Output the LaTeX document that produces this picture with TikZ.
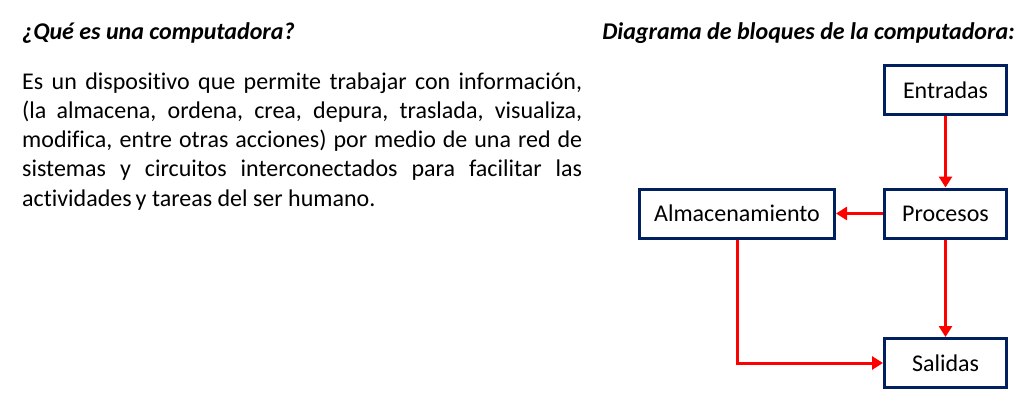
\documentclass[tikz,border=0pt]{standalone}
\usepackage{fontspec}
\setmainfont{Carlito}[Ligatures=CommonOff]
\usetikzlibrary{arrows.meta}
\definecolor{navy}{HTML}{002060}
\definecolor{arrred}{HTML}{FF0000}
\begin{document}
\begin{tikzpicture}[x=1pt,y=-1pt,
  box/.style={draw=navy, line width=3pt, minimum height=49pt, inner sep=0pt,
    font=\fontsize{24}{29}\selectfont},
  arr/.style={draw=arrred, line width=3pt, -{Triangle[length=11pt,width=13pt]}},
  head/.style={inner sep=0pt, font=\fontsize{24}{29}\selectfont\bfseries\itshape},
  txt/.style={inner sep=0pt, anchor=base west, font=\fontsize{24}{29}\selectfont}]
\useasboundingbox (0,0) rectangle (1032,415);
\node[head, anchor=base west] (t1) at (22,39) {¿Qué es una computadora?};
\node[head, anchor=base east] (t2) at (1015,39) {Diagrama de bloques de la computadora:};
\node[txt] (p1) at (22,89) {\makebox[560pt][s]{Es un dispositivo que permite trabajar con información,}};
\node[txt] (p2) at (22,118.3) {\makebox[560pt][s]{(la almacena, ordena, crea, depura, traslada, visualiza,}};
\node[txt] (p3) at (22,147.6) {\makebox[560pt][s]{modifica, entre otras acciones) por medio de una red de}};
\node[txt] (p4) at (22,176.9) {\makebox[560pt][s]{sistemas y circuitos interconectados para facilitar las}};
\node[txt] (p5) at (22,206.2) {actividades\,y tareas del ser humano.};
\node[box, minimum width=122pt] (E) at (945.5,90) {Entradas};
\node[box, minimum width=122pt] (P) at (945.5,213.5) {Procesos};
\node[box, minimum width=195pt] (A) at (737,213.5) {Almacenamiento};
\node[box, minimum width=122pt] (S) at (945.5,363) {Salidas};
\draw[arr] (E) -- (P);
\draw[arr] (P) -- (A);
\draw[arr] (P) -- (S);
\draw[arr] (A.south) |- (S.west);
\end{tikzpicture}
\end{document}
